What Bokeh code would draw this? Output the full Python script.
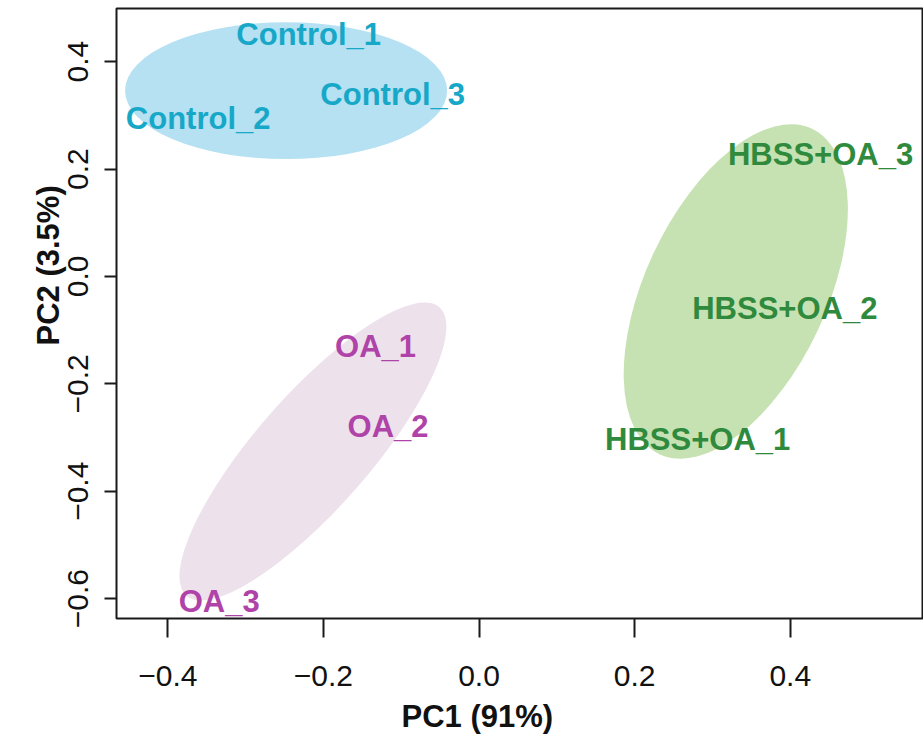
import numpy as np
from bokeh.plotting import figure
from bokeh.models import (ColumnDataSource, FixedTicker, CustomJSTickFormatter,
                          Title, LinearAxis)
from bokeh.core.properties import value
from bokeh.embed import file_html
from bokeh.resources import INLINE

# ---- data ----
sample_names = ["Control_1", "Control_2", "Control_3",
                "OA_1", "OA_2", "OA_3",
                "HBSS+OA_1", "HBSS+OA_2", "HBSS+OA_3"]
sample_groups = ["Control", "Control", "Control",
                 "OA", "OA", "OA",
                 "HBSS+OA", "HBSS+OA", "HBSS+OA"]
pc1 = [-0.219, -0.361, -0.111, -0.133, -0.117, -0.334, 0.281, 0.393, 0.439]
pc2 = [0.451, 0.294, 0.339, -0.130, -0.280, -0.606, -0.304, -0.060, 0.227]

ellipse_groups = ["Control", "OA", "HBSS+OA"]
ellipse_cx = [-0.248, -0.2135, 0.330]
ellipse_cy = [0.346, -0.326, -0.028]
ellipse_w = [0.414, 0.493, 0.462]
ellipse_h = [0.255, 0.212, 0.338]
ellipse_angle = [0.0, 48.75, 64.9]

x_ticks = [-0.4, -0.2, 0.0, 0.2, 0.4]
y_ticks = [-0.6, -0.4, -0.2, 0.0, 0.2, 0.4]
x_label = "PC1 (91%)"
y_label = "PC2 (3.5%)"

# ---- styles ----
text_colors = {"Control": "#17A8C8", "OA": "#B043A8", "HBSS+OA": "#2F8A3D"}
fill_colors = {"Control": "#B5E1F3", "OA": "#EDE1EC", "HBSS+OA": "#C6E2B2"}
FONT = "Liberation Sans"

p = figure(width=923, height=744,
           x_range=(-0.466, 0.570), y_range=(-0.637, 0.499),
           output_backend="svg", toolbar_location=None,
           min_border_left=116, min_border_right=1,
           min_border_top=8, min_border_bottom=126)
p.background_fill_color = "white"
p.border_fill_color = "white"
p.grid.visible = False
p.outline_line_color = "#1a1a1a"
p.outline_line_width = 2

ell_src = ColumnDataSource(dict(
    x=ellipse_cx, y=ellipse_cy, w=ellipse_w, h=ellipse_h, a=ellipse_angle,
    c=[fill_colors[g] for g in ellipse_groups]))
p.ellipse(x="x", y="y", width="w", height="h", angle="a", angle_units="deg",
          source=ell_src, fill_color="c", line_color=None)

txt_src = ColumnDataSource(dict(
    x=pc1, y=pc2, t=sample_names, c=[text_colors[g] for g in sample_groups]))
p.text(x="x", y="y", text="t", source=txt_src, text_color="c",
       text_font=value(FONT), text_font_style="bold", text_font_size="31px",
       text_align="center", text_baseline="middle")

fmt = CustomJSTickFormatter(code="""
    return (tick < -1e-9 ? "\\u2212" : "") + Math.abs(tick).toFixed(1);
""")

for ax, ticks, out in ((p.xaxis[0], x_ticks, 19), (p.yaxis[0], y_ticks, 12)):
    ax.ticker = FixedTicker(ticks=ticks)
    ax.formatter = fmt
    ax.minor_tick_line_color = None
    ax.axis_line_color = None
    ax.major_tick_in = 0
    ax.major_tick_out = out
    ax.major_tick_line_width = 2
    ax.major_tick_line_color = "#1a1a1a"
    ax.major_label_text_font = FONT
    ax.major_label_text_font_size = "30px"
    ax.major_label_text_color = "#111111"

p.xaxis[0].major_label_standoff = 28
p.yaxis[0].major_label_standoff = 16
p.yaxis[0].major_label_orientation = "vertical"

# blank spacer axis (no ticks, no labels) between the y tick labels and the y title
spacer = LinearAxis(ticker=FixedTicker(ticks=[]), axis_line_color="white",
                    major_tick_line_color="white", minor_tick_line_color=None,
                    major_tick_in=0, major_tick_out=24, major_label_standoff=0)
p.add_layout(spacer, "left")

p.add_layout(Title(text=x_label, align="left", offset=285, standoff=16,
                   text_font=FONT, text_font_style="bold", text_font_size="31px",
                   text_color="#111111"), "below")
p.add_layout(Title(text=y_label, align="left", offset=273, standoff=0,
                   text_font=FONT, text_font_style="bold", text_font_size="31px",
                   text_color="#111111"), "left")

open("out.html", "w").write(file_html(p, INLINE))
